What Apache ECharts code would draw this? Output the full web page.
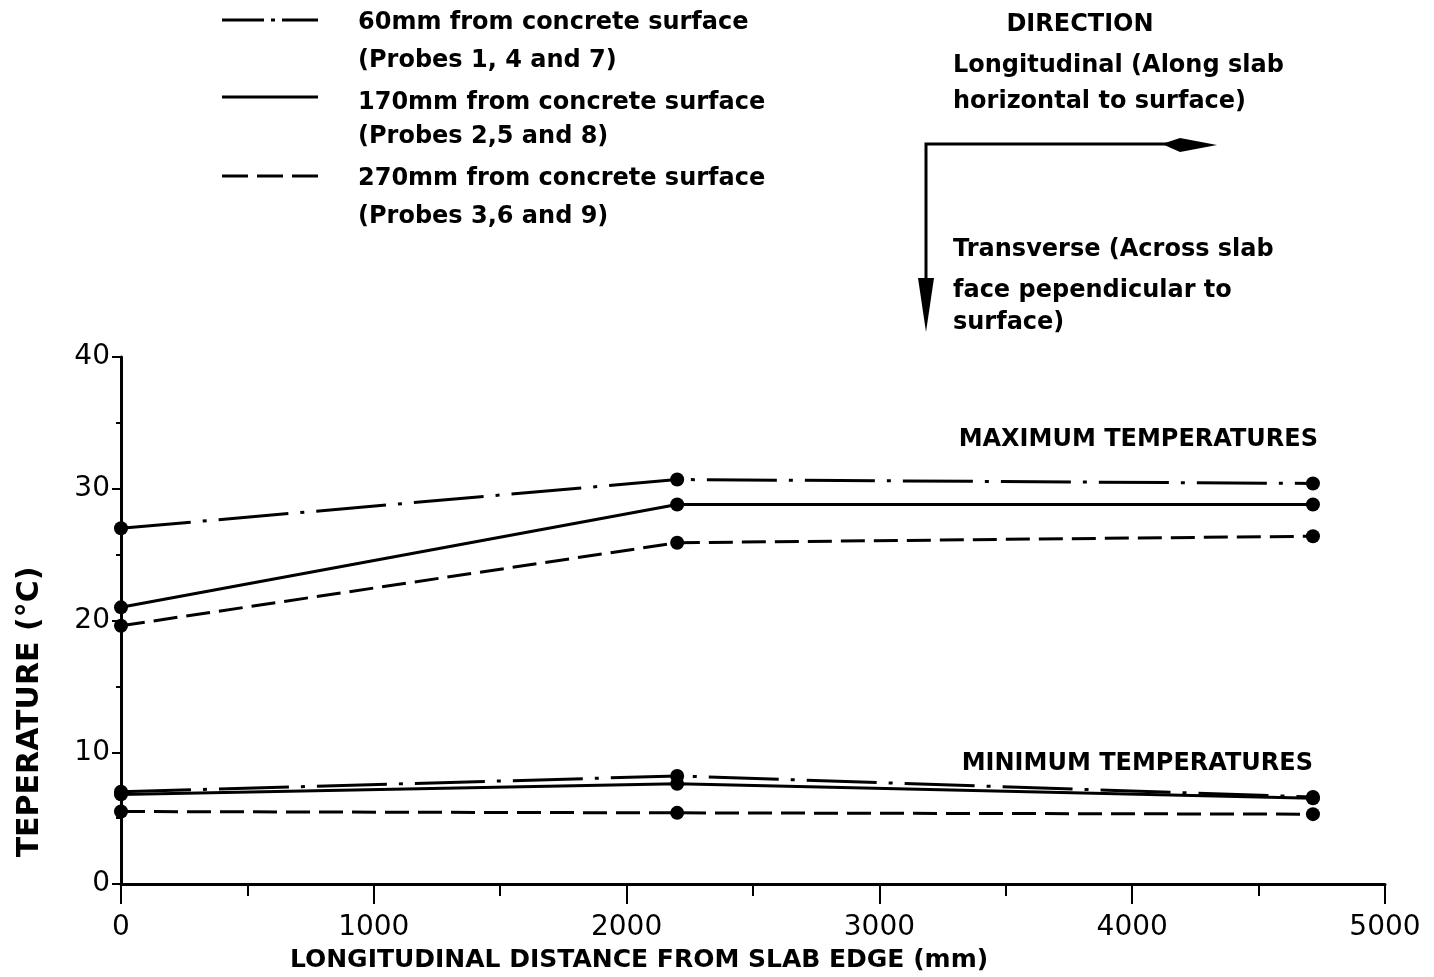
<!DOCTYPE html>
<html>
<head>
<meta charset="utf-8">
<script src="https://cdn.jsdelivr.net/npm/echarts@6/dist/echarts.min.js"></script>
<style>
  html, body { margin: 0; padding: 0; background: #fff; }
  #chart { width: 1434px; height: 977px; }
</style>
</head>
<body>
<div id="chart"></div>
<script>
// Probe positions along the slab (mm from slab edge)
const distances = [0, 2200, 4715];

// Maximum temperatures (°C) at each probe depth
const max60 = [27.0, 30.7, 30.4];
const max170 = [21.0, 28.8, 28.8];
const max270 = [19.6, 25.9, 26.4];

// Minimum temperatures (°C) at each probe depth
const min60 = [7.0, 8.2, 6.6];
const min170 = [6.8, 7.6, 6.5];
const min270 = [5.5, 5.4, 5.3];

// Axis tick values
const xTicks = [0, 1000, 2000, 3000, 4000, 5000];
const yTicks = [0, 10, 20, 30, 40];

const legendLines = [
  '60mm from concrete surface', '(Probes 1, 4 and 7)',
  '170mm from concrete surface', '(Probes 2,5 and 8)',
  '270mm from concrete surface', '(Probes 3,6 and 9)'
];

const INK = '#000';
const FONT = '"DejaVu Sans", sans-serif';
const dashDot = [70, 12, 4, 12];
const dashed = [24, 9];

function pairs(vals) { return distances.map((d, i) => [d, vals[i]]); }

function mkSeries(name, vals, dash) {
  return {
    name: name, type: 'line', data: pairs(vals),
    symbol: 'circle', symbolSize: 14,
    itemStyle: { color: INK },
    lineStyle: { color: INK, width: 3, type: dash },
    z: 3, silent: true
  };
}

const chart = echarts.init(document.getElementById('chart'), null, { renderer: 'canvas' });

const txt = (x, y, text, extra, size) => ({
  type: 'text', x: x, y: y,
  style: Object.assign({ text: text, fill: INK, font: 'bold ' + (size || 24) + 'px ' + FONT, textVerticalAlign: 'middle' }, extra || {})
});

const graphics = [];
// Legend samples
graphics.push({ type: 'line', shape: { x1: 222, y1: 20, x2: 264, y2: 20 }, style: { stroke: INK, lineWidth: 3 } });
graphics.push({ type: 'rect', shape: { x: 271, y: 18.5, width: 4, height: 3 }, style: { fill: INK } });
graphics.push({ type: 'line', shape: { x1: 282, y1: 20, x2: 318, y2: 20 }, style: { stroke: INK, lineWidth: 3 } });
graphics.push({ type: 'line', shape: { x1: 222, y1: 97, x2: 318, y2: 97 }, style: { stroke: INK, lineWidth: 3 } });
graphics.push({ type: 'line', shape: { x1: 222, y1: 176, x2: 318, y2: 176 }, style: { stroke: INK, lineWidth: 3, lineDash: [26, 9] } });
const legendY = [23, 61, 103, 137, 179, 217];
legendLines.forEach((t, i) => graphics.push(txt(358, legendY[i], t)));

// Direction key
graphics.push(txt(1080, 25, 'DIRECTION', { textAlign: 'center' }));
graphics.push(txt(953, 66, 'Longitudinal (Along slab'));
graphics.push(txt(953, 102, 'horizontal to surface)'));
graphics.push(txt(953, 250, 'Transverse (Across slab'));
graphics.push(txt(953, 291, 'face pependicular to'));
graphics.push(txt(953, 323, 'surface)'));
graphics.push({ type: 'polyline', shape: { points: [[1170, 144], [926, 144], [926, 285]] }, style: { stroke: INK, lineWidth: 3, fill: null } });
graphics.push({ type: 'polygon', shape: { points: [[1162, 144], [1180, 138], [1217, 145], [1180, 152]] }, style: { fill: INK } });
graphics.push({ type: 'polygon', shape: { points: [[918, 278], [934, 278], [926, 332]] }, style: { fill: INK } });

// Panel annotations
graphics.push(txt(1318, 440, 'MAXIMUM TEMPERATURES', { textAlign: 'right' }));
graphics.push(txt(1313, 764, 'MINIMUM TEMPERATURES', { textAlign: 'right' }));

// Axis titles
graphics.push({
  type: 'text', x: 30, y: 712, rotation: Math.PI / 2,
  style: { text: 'TEPERATURE (°C)', fill: INK, font: 'bold 30px ' + FONT, textAlign: 'center', textVerticalAlign: 'middle' }
});
graphics.push(txt(639, 960, 'LONGITUDINAL DISTANCE FROM SLAB EDGE (mm)', { textAlign: 'center' }, 25));

chart.setOption({
  animation: false,
  backgroundColor: '#fff',
  grid: { left: 121, right: 49, top: 357, bottom: 93, containLabel: false },
  xAxis: {
    type: 'value', min: xTicks[0], max: xTicks[xTicks.length - 1], interval: 1000,
    axisLine: { lineStyle: { color: INK, width: 3 } },
    axisTick: { show: true, length: 20, lineStyle: { color: INK, width: 2 } },
    minorTick: { show: true, splitNumber: 2, length: 12, lineStyle: { color: INK, width: 2 } },
    axisLabel: { color: INK, fontFamily: FONT, fontSize: 28, margin: 30, formatter: v => String(v) },
    splitLine: { show: false }
  },
  yAxis: {
    type: 'value', min: yTicks[0], max: yTicks[yTicks.length - 1], interval: 10,
    axisLine: { lineStyle: { color: INK, width: 3 } },
    axisTick: { show: true, length: 9, lineStyle: { color: INK, width: 2 } },
    minorTick: { show: true, splitNumber: 2, length: 5, lineStyle: { color: INK, width: 2 } },
    axisLabel: { color: INK, fontFamily: FONT, fontSize: 28, margin: 11 },
    splitLine: { show: false }
  },
  series: [
    mkSeries('Max 60mm', max60, dashDot),
    mkSeries('Max 170mm', max170, 'solid'),
    mkSeries('Max 270mm', max270, dashed),
    mkSeries('Min 60mm', min60, dashDot),
    mkSeries('Min 170mm', min170, 'solid'),
    mkSeries('Min 270mm', min270, dashed)
  ],
  graphic: graphics
});
</script>
</body>
</html>
